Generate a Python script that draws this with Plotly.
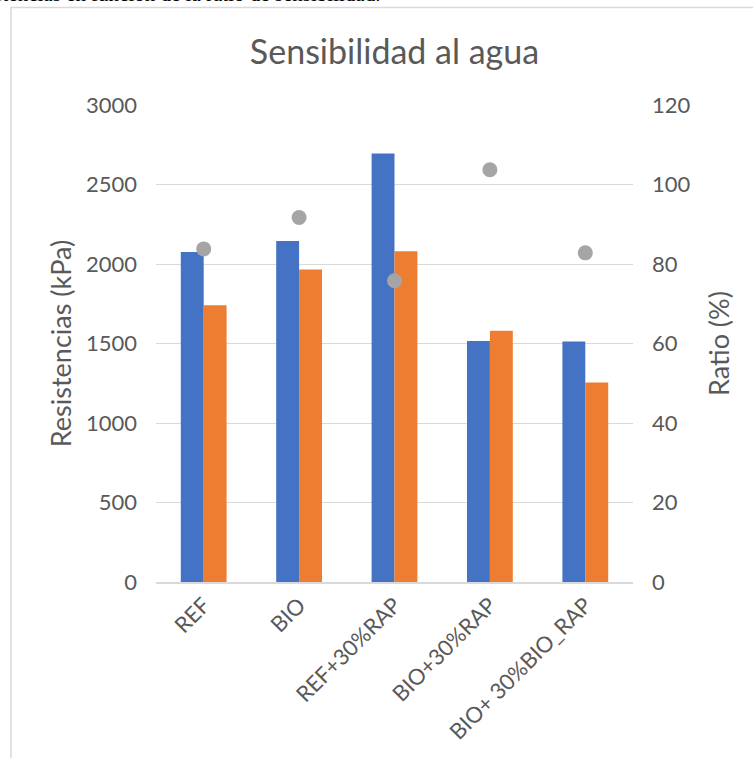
import plotly.graph_objects as go

# Mix designs and measured strengths
categorias = ["REF", "BIO", "REF+30%RAP", "BIO+30%RAP", "BIO+ 30%BIO_RAP"]
resistencia_seca = [2075, 2145, 2695, 1515, 1512]      # kPa
resistencia_humeda = [1740, 1965, 2080, 1580, 1255]    # kPa
ratio = [83.8, 91.7, 75.8, 103.7, 82.8]                # %

W, H = 753, 758
ML, MR, MT, MB = 156, 120, 105, 176
PW, PH = W - ML - MR, H - MT - MB


def px_x(x):
    return (x - ML) / PW


def px_y(y):
    return (H - MB - y) / PH


FONT = "Lato"
GREY_TXT = "#595959"
GRID = "#D9D9D9"

fig = go.Figure()
fig.add_trace(go.Bar(x=categorias, y=resistencia_seca, name="Seca",
                     marker=dict(color="#4472C4", line=dict(width=0))))
fig.add_trace(go.Bar(x=categorias, y=resistencia_humeda, name="Húmeda",
                     marker=dict(color="#ED7D31", line=dict(width=0))))
fig.add_trace(go.Scatter(x=categorias, y=ratio, name="Ratio", yaxis="y2",
                         mode="markers",
                         marker=dict(color="#A5A5A5", size=15)))

fig.update_layout(
    width=W, height=H,
    margin=dict(l=ML, r=MR, t=MT, b=MB, autoexpand=False),
    paper_bgcolor="white", plot_bgcolor="white",
    showlegend=False,
    barmode="group", bargap=0.52, bargroupgap=0,
    font=dict(family=FONT, color=GREY_TXT, size=22),
    title=dict(text="Sensibilidad al agua", x=0.5, xref="paper",
               y=1 - 52 / H, yref="container", yanchor="middle",
               font=dict(family=FONT, size=34, color=GREY_TXT)),
    xaxis=dict(tickangle=-45, showgrid=False, showline=True,
               linecolor=GRID, linewidth=1.5, ticks="",
               tickfont=dict(size=22, color=GREY_TXT)),
    yaxis=dict(range=[0, 3000], dtick=500, showgrid=True, gridcolor=GRID,
               gridwidth=1.3, zeroline=False, ticks="", showline=False,
               ticklabelstandoff=18, tickfont=dict(size=22),
               title=dict(text="Resistencias (kPa)", standoff=6,
                          font=dict(size=27, color=GREY_TXT))),
    yaxis2=dict(range=[0, 120], dtick=20, overlaying="y", side="right",
                showgrid=False, zeroline=False, ticks="", showline=False,
                ticklabelstandoff=18, tickfont=dict(size=22),
                title=dict(text="Ratio (%)", standoff=20,
                           font=dict(size=27, color=GREY_TXT))),
    shapes=[
        dict(type="rect", xref="paper", yref="paper",
             x0=px_x(11), x1=px_x(W + 20), y0=px_y(H + 20), y1=px_y(7.5),
             line=dict(color=GRID, width=1.5), fillcolor="rgba(0,0,0,0)",
             layer="below"),
    ],
    annotations=[
        dict(text="Resistencias en función de la ratio de sensibilidad.",
             xref="paper", yref="paper", x=px_x(382), y=px_y(-6),
             xanchor="right", yanchor="middle", showarrow=False,
             font=dict(family="Liberation Serif", size=21, color="black")),
    ],
)

fig.write_html("out.html")
